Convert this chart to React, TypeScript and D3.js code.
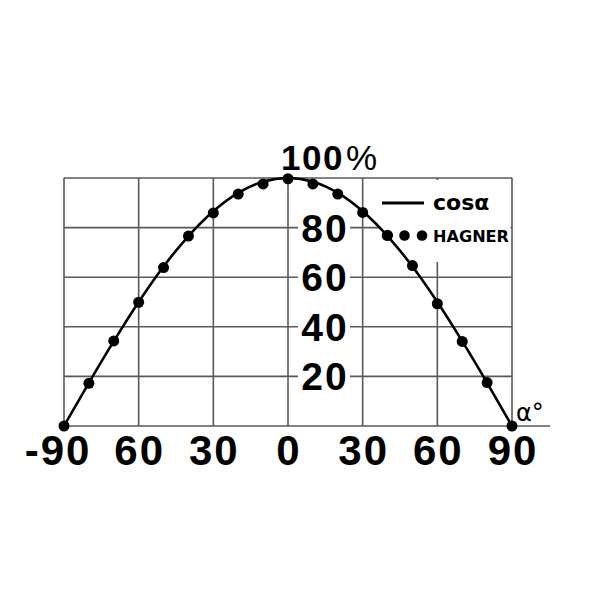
import { useEffect, useRef } from 'react'
import * as d3 from 'd3'

// angles in degrees, every 10°
const angles = [-90, -80, -70, -60, -50, -40, -30, -20, -10, 0, 10, 20, 30, 40, 50, 60, 70, 80, 90]
// cos α curve, percent
const cosValues = [0, 17.4, 34.2, 50, 64.3, 76.6, 86.6, 94, 98.5, 100, 98.5, 94, 86.6, 76.6, 64.3, 50, 34.2, 17.4, 0]
// HAGNER measured points, percent
const hagnerValues = [0, 17.2, 34.3, 49.9, 63.9, 76.6, 85.9, 93.5, 97.6, 99.7, 97.6, 93.5, 86.1, 76.9, 64.7, 49.3, 34.1, 17.5, 0]

const xTicks = [-90, -60, -30, 0, 30, 60, 90]
const xTickLabels = ['-90', '60', '30', '0', '30', '60', '90']
const yTicks = [20, 40, 60, 80, 100]
const yTickLabels = ['20', '40', '60', '80']

const FONT = "'Liberation Sans', Arial, sans-serif"
const SMALL = "'DejaVu Sans', sans-serif"

export default function App() {
  const svgRef = useRef<SVGSVGElement>(null)

  useEffect(() => {
    if (!svgRef.current) return
    const svg = d3.select(svgRef.current)
    svg.selectAll('*').remove()

    const x = d3.scaleLinear().domain([-90, 90]).range([64, 512])
    const y = d3.scaleLinear().domain([0, 100]).range([426, 178])

    svg.append('rect').attr('width', 600).attr('height', 600).attr('fill', '#fff')

    const grid = svg.append('g').attr('stroke', '#5a5a5a').attr('stroke-width', 1.6)

    // vertical grid
    grid.selectAll('.v')
      .data(xTicks)
      .enter()
      .append('line')
      .attr('x1', d => x(d))
      .attr('x2', d => x(d))
      .attr('y1', y(0))
      .attr('y2', y(100))

    // horizontal grid
    grid.selectAll('.h')
      .data(yTicks)
      .enter()
      .append('line')
      .attr('x1', x(-90))
      .attr('x2', x(90))
      .attr('y1', d => y(d))
      .attr('y2', d => y(d))

    // baseline running past the plot for the α° label
    grid.append('line')
      .attr('x1', x(-90))
      .attr('x2', 550)
      .attr('y1', y(0))
      .attr('y2', y(0))

    // legend knock-out box
    svg.append('rect')
      .attr('x', 379)
      .attr('y', y(100) + 2)
      .attr('width', x(90) - 379 - 1.5)
      .attr('height', 262 - y(100) - 2)
      .attr('fill', '#fff')

    // y labels with white backing
    const yl = svg.append('g')
    yl.selectAll('rect')
      .data(yTickLabels)
      .enter()
      .append('rect')
      .attr('x', 298)
      .attr('y', (d, i) => y(yTicks[i]) - 15)
      .attr('width', 52)
      .attr('height', 30)
      .attr('fill', '#fff')
    yl.selectAll('text')
      .data(yTickLabels)
      .enter()
      .append('text')
      .attr('x', 325)
      .attr('y', (d, i) => y(yTicks[i]) + 14)
      .attr('text-anchor', 'middle')
      .style('font-family', FONT)
      .style('font-weight', 'bold')
      .style('font-size', '39px')
      .style('letter-spacing', '2px')
      .text(d => d)

    const top = svg.append('text')
      .attr('x', 281)
      .attr('y', 170)
      .style('font-family', FONT)
      .style('font-weight', 'bold')
      .style('font-size', '35px')
      .style('letter-spacing', '1.5px')
    top.append('tspan').text('100')
    top.append('tspan').attr('dx', 2).style('font-weight', 'normal').text('%')

    // x labels
    svg.selectAll('.xl')
      .data(xTickLabels)
      .enter()
      .append('text')
      .attr('x', (d, i) => x(xTicks[i]) + 1)
      .attr('dx', d => (d.startsWith('-') ? -7 : 0))
      .attr('y', 465)
      .attr('text-anchor', 'middle')
      .style('font-family', FONT)
      .style('font-weight', 'bold')
      .style('font-size', '42px')
      .style('letter-spacing', '2px')
      .text(d => d)

    svg.append('text')
      .attr('x', 516)
      .attr('y', 421)
      .style('font-family', SMALL)
      .style('font-size', '24px')
      .text('α°')

    // cos α curve
    const line = d3.line<number>()
      .x((d, i) => x(angles[i]))
      .y(d => y(d))
      .curve(d3.curveMonotoneX)

    svg.append('path')
      .datum(cosValues)
      .attr('d', line)
      .attr('fill', 'none')
      .attr('stroke', '#000')
      .attr('stroke-width', 2.6)

    // HAGNER dots
    svg.selectAll('.dot')
      .data(hagnerValues)
      .enter()
      .append('circle')
      .attr('cx', (d, i) => x(angles[i]))
      .attr('cy', d => y(d))
      .attr('r', 5.5)
      .attr('fill', '#000')

    // legend
    svg.append('line')
      .attr('x1', 382)
      .attr('x2', 424)
      .attr('y1', 203)
      .attr('y2', 203)
      .attr('stroke', '#000')
      .attr('stroke-width', 3)
    svg.append('text')
      .attr('x', 433)
      .attr('y', 210)
      .style('font-family', SMALL)
      .style('font-weight', 'bold')
      .style('font-size', '22px')
      .text('cosα')

    svg.selectAll('.ldot')
      .data([387, 404.5, 422])
      .enter()
      .append('circle')
      .attr('cx', d => d)
      .attr('cy', 235.5)
      .attr('r', 5.3)
      .attr('fill', '#000')
    svg.append('text')
      .attr('x', 433)
      .attr('y', 242)
      .attr('textLength', 76)
      .attr('lengthAdjust', 'spacingAndGlyphs')
      .style('font-family', SMALL)
      .style('font-weight', 'bold')
      .style('font-size', '16.5px')
      .text('HAGNER')
  }, [])

  return (
    <svg
      ref={svgRef}
      width={600}
      height={600}
      style={{ position: 'absolute', left: 0, top: 0 }}
    />
  )
}
